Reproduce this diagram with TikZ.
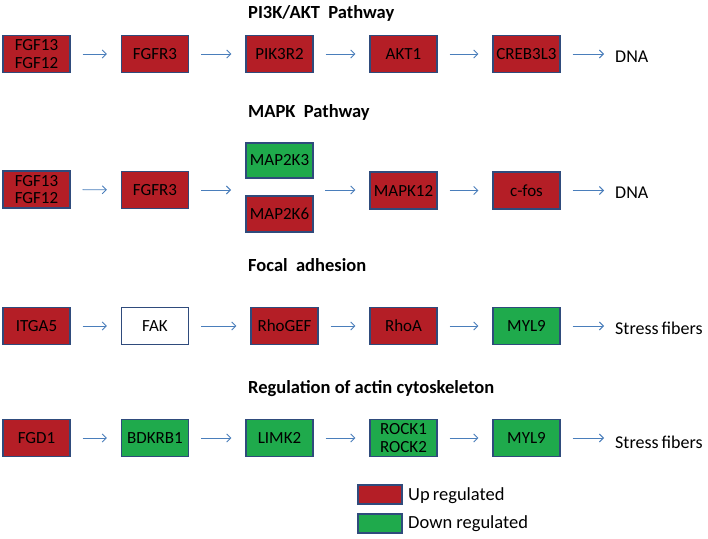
\documentclass[tikz,border=0pt]{standalone}
\usepackage{fontspec}
\setmainfont{Carlito}
\usetikzlibrary{arrows.meta}
\definecolor{upred}{HTML}{B41E26}
\definecolor{downgreen}{HTML}{1FAA4C}
\definecolor{edgeblue}{HTML}{2F4B7C}
\definecolor{arrowblue}{HTML}{4A7EBB}
\tikzset{
  gene/.style={draw=edgeblue, line width=1.3pt, minimum width=67pt, minimum height=37pt, inner sep=0pt, font=\fontsize{17}{17.5}\selectfont, align=center},
  upg/.style={gene, fill=upred},
  downg/.style={gene, fill=downgreen},
  noneg/.style={gene, fill=white},
  conn/.style={draw=arrowblue, line width=0.9pt, -{Straight Barb[length=4pt,width=8pt]}, shorten <=12pt, shorten >=14pt},
  endtxt/.style={anchor=west, inner sep=0pt, font=\fontsize{18}{20}\selectfont},
  ptitle/.style={anchor=west, inner sep=0pt, font=\bfseries\fontsize{18.5}{20}\selectfont},
  legbox/.style={draw=edgeblue, line width=1.3pt, minimum width=44pt, minimum height=19pt, inner sep=0pt},
  legtxt/.style={anchor=west, inner sep=0pt, font=\fontsize{18.5}{20}\selectfont}
}
\begin{document}
\begin{tikzpicture}[x=1pt,y=-1pt]
\useasboundingbox (0,0) rectangle (708,538);
% Row 1
\node[ptitle] (t1) at (248,13) {PI3K/AKT\ \ Pathway};
\node[upg] (a1) at (36.5,54) {FGF13\\FGF12};
\node[upg] (a2) at (155,54) {FGFR3};
\node[upg] (a3) at (279.5,54) {PIK3R2};
\node[upg] (a4) at (403.5,54) {AKT1};
\node[upg] (a5) at (526.5,54) {CREB3L3};
\node[endtxt] (a6) at (615,57) {DNA};
\draw[conn] (a1) -- (a2);
\draw[conn] (a2) -- (a3);
\draw[conn] (a3) -- (a4);
\draw[conn] (a4) -- (a5);
\draw[conn, shorten >=11pt] (a5.east) -- (a5.east -| a6.west);
% Row 2
\node[ptitle] (t2) at (248,112) {MAPK\ \ Pathway};
\node[upg] (b1) at (36.5,189.5) {FGF13\\FGF12};
\node[upg] (b2) at (155,190) {FGFR3};
\node[downg, minimum height=35pt] (b3) at (279.5,160.5) {MAP2K3};
\node[upg, minimum height=36pt] (b4) at (279.5,214) {MAP2K6};
\coordinate (bl) at (246,190);
\coordinate (br) at (313,190);
\node[upg] (b5) at (403.5,190.5) {MAPK12};
\node[upg] (b6) at (526.5,190.5) {c-fos};
\node[endtxt] (b7) at (615,193) {DNA};
\draw[conn] (b1) -- (b2);
\draw[conn, shorten >=15pt] (b2.east |- bl) -- (bl);
\draw[conn] (br) -- (b5.west |- br);
\draw[conn] (b5) -- (b6);
\draw[conn, shorten >=11pt] (b6.east) -- (b6.east -| b7.west);
% Row 3
\node[ptitle] (t3) at (248,265) {Focal\ \ adhesion};
\node[upg] (c1) at (36.5,326) {ITGA5};
\node[noneg] (c2) at (155,326) {FAK};
\node[upg] (c3) at (284.5,326) {RhoGEF};
\node[upg] (c4) at (403.5,326) {RhoA};
\node[downg] (c5) at (526.5,326) {MYL9};
\node[endtxt] (c6) at (615,328) {Stress\,fibers};
\draw[conn] (c1) -- (c2);
\draw[conn] (c2) -- (c3);
\draw[conn] (c3) -- (c4);
\draw[conn] (c4) -- (c5);
\draw[conn, shorten >=11pt] (c5.east) -- (c5.east -| c6.west);
% Row 4
\node[ptitle] (t4) at (248,389) {Regulation of actin cytoskeleton};
\node[upg] (d1) at (36.5,438) {FGD1};
\node[downg] (d2) at (155,438) {BDKRB1};
\node[downg] (d3) at (279.5,438) {LIMK2};
\node[downg] (d4) at (403.5,438) {ROCK1\\ROCK2};
\node[downg] (d5) at (526.5,438) {MYL9};
\node[endtxt] (d6) at (615,442) {Stress\,fibers};
\draw[conn] (d1) -- (d2);
\draw[conn] (d2) -- (d3);
\draw[conn] (d3) -- (d4);
\draw[conn] (d4) -- (d5);
\draw[conn, shorten >=11pt] (d5.east) -- (d5.east -| d6.west);
% Legend
\node[legbox, fill=upred] (l1) at (380,494.5) {};
\node[legtxt] (l1t) at (408,496) {Up\,regulated};
\node[legbox, fill=downgreen] (l2) at (380,523.5) {};
\node[legtxt] (l2t) at (408,524) {Down regulated};
\end{tikzpicture}
\end{document}
